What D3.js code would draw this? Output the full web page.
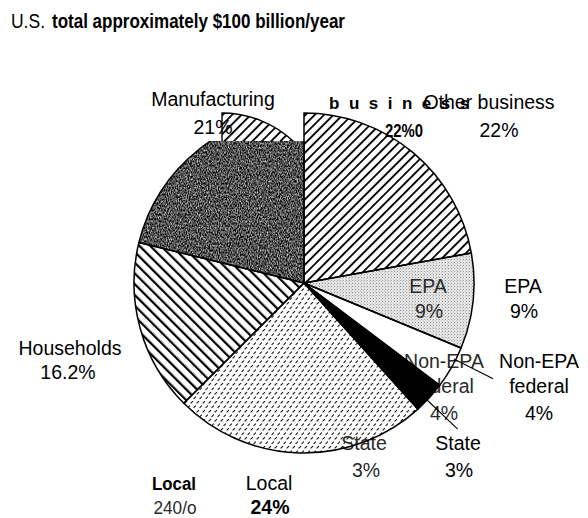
<!DOCTYPE html>
<html>
<head>
<meta charset="utf-8">
<script src="https://cdn.jsdelivr.net/npm/d3@7"></script>
<style>
  body { margin: 0; background: #fff; }
  svg text { font-family: "Liberation Sans", Arial, Helvetica, sans-serif; }
</style>
</head>
<body>
<div id="pie-chart"></div>
<script>
// shares (they add up to 99.2)
const categories = ["Other business", "EPA", "Non-EPA federal", "State", "Local", "Households", "Manufacturing"];
const shares = [22, 9, 4, 3, 24, 16.2, 21];
const shareLabels = ["22%", "9%", "4%", "3%", "24%", "16.2%", "21%"];

// fills per slice, same order as categories
const sliceFills = ["url(#hatch-fwd)", "url(#stipple)", "#fff", "#000", "url(#dashes)", "url(#hatch-back)", "#000"];

const width = 588, height = 518;
const cx = 304, cy = 283, radius = 170;

const svg = d3.select("#pie-chart")
  .append("svg")
  .attr("width", width)
  .attr("height", height);

// ---- patterns / textures
const defs = svg.append("defs");

defs.append("pattern")
  .attr("id", "hatch-fwd")
  .attr("patternUnits", "userSpaceOnUse")
  .attr("width", 6.6).attr("height", 10)
  .attr("patternTransform", "rotate(45)")
  .append("rect")
  .attr("x", 0).attr("y", 0).attr("width", 1.8).attr("height", 10)
  .attr("fill", "#000");

defs.append("pattern")
  .attr("id", "hatch-back")
  .attr("patternUnits", "userSpaceOnUse")
  .attr("width", 7.6).attr("height", 10)
  .attr("patternTransform", "rotate(-45)")
  .append("rect")
  .attr("x", 0).attr("y", 0).attr("width", 2.2).attr("height", 10)
  .attr("fill", "#000");

const stipple = defs.append("pattern")
  .attr("id", "stipple")
  .attr("patternUnits", "userSpaceOnUse")
  .attr("width", 3).attr("height", 3);
stipple.append("rect").attr("width", 3).attr("height", 3).attr("fill", "#e4e4e4");
stipple.append("rect").attr("x", 0).attr("y", 0).attr("width", 1).attr("height", 1).attr("fill", "#9a9a9a");
stipple.append("rect").attr("x", 2).attr("y", 1.5).attr("width", 0.8).attr("height", 0.8).attr("fill", "#b5b5b5");

const dashes = defs.append("pattern")
  .attr("id", "dashes")
  .attr("patternUnits", "userSpaceOnUse")
  .attr("width", 6).attr("height", 9);
dashes.append("rect").attr("width", 6).attr("height", 9).attr("fill", "#fff");
dashes.append("path")
  .attr("d", "M0.6,3.4 L3,1.1 M3.6,7.9 L6,5.6")
  .attr("stroke", "#111")
  .attr("stroke-width", 1.1)
  .attr("fill", "none");

// grainy dark scan texture for the manufacturing slice
const grain = defs.append("filter")
  .attr("id", "grain")
  .attr("x", 0).attr("y", 0).attr("width", 1).attr("height", 1)
  .attr("color-interpolation-filters", "sRGB");
grain.append("feTurbulence")
  .attr("type", "fractalNoise")
  .attr("baseFrequency", "0.9 0.45")
  .attr("numOctaves", 2)
  .attr("seed", 7)
  .attr("result", "noise");
grain.append("feColorMatrix")
  .attr("in", "noise")
  .attr("type", "matrix")
  .attr("values", "1.4 0 0 0 -0.38  1.4 0 0 0 -0.38  1.4 0 0 0 -0.38  0 0 0 0 1")
  .attr("result", "gray");
grain.append("feComposite")
  .attr("in", "gray")
  .attr("in2", "SourceGraphic")
  .attr("operator", "in");

// the scan lost the top of the manufacturing slice (clip in pie-local space)
defs.append("clipPath").attr("id", "mfg-clip-local")
  .append("rect").attr("x", -cx).attr("y", 141 - cy).attr("width", width).attr("height", height);

defs.append("clipPath").attr("id", "shard-clip")
  .append("rect").attr("x", 221).attr("y", 100).attr("width", 80).attr("height", 41);

// ---- pie
const slices = d3.pie().sort(null).value(d => d.value)(
  categories.map((c, i) => ({ name: c, value: shares[i], fill: sliceFills[i] }))
);

const arc = d3.arc().innerRadius(0).outerRadius(radius);

const fillsLayer = svg.append("g").attr("transform", `translate(${cx},${cy})`);

fillsLayer.selectAll("path.slice")
  .data(slices.filter(d => d.data.name !== "State"))
  .enter()
  .append("path")
  .attr("class", "slice")
  .attr("d", arc)
  .attr("fill", d => d.data.fill)
  .attr("clip-path", d => d.data.name === "Manufacturing" ? "url(#mfg-clip-local)" : null)
  .attr("filter", d => d.data.name === "Manufacturing" ? "url(#grain)" : null);

// ---- ghost labels left over from the scan (drawn under the black slice)
const ghost = svg.append("g");

const ghostText = (x, y, txt, opts = {}) => {
  const t = ghost.append("text")
    .attr("x", x).attr("y", y)
    .attr("text-anchor", opts.anchor || "middle")
    .attr("font-size", opts.size || 19.5)
    .attr("font-weight", opts.weight || "normal")
    .attr("fill", opts.fill || "#2a2a2a")
    .text(txt);
  if (opts.len) t.attr("textLength", opts.len).attr("lengthAdjust", "spacingAndGlyphs");
  if (opts.spacing) t.attr("letter-spacing", opts.spacing);
  return t;
};

ghostText(329, 109, "business", { anchor: "start", size: 17, weight: "bold", fill: "#000", spacing: 9.5 });
ghostText(385, 137, "22%0", { anchor: "start", size: 19, weight: "bold", fill: "#000", len: 38 });
ghostText(428, 293, "EPA");
ghostText(429, 318, "9%");
ghostText(444, 368, "Non-EPA");
ghostText(444, 393, "federal");
ghostText(444, 420, "4%");
ghostText(364, 450, "State");
ghostText(366, 477, "3%");
ghostText(174, 490, "Local", { size: 18, weight: "bold", fill: "#000", len: 44 });
ghostText(175, 514, "240/o", { size: 19, len: 43 });

// state slice sits on top of the ghost text
const blackLayer = svg.append("g").attr("transform", `translate(${cx},${cy})`);
blackLayer.selectAll("path")
  .data(slices.filter(d => d.data.name === "State"))
  .enter()
  .append("path")
  .attr("d", arc)
  .attr("fill", d => d.data.fill);

// outlines
const outlineLayer = svg.append("g").attr("transform", `translate(${cx},${cy})`);
outlineLayer.selectAll("path")
  .data(slices)
  .enter()
  .append("path")
  .attr("d", arc)
  .attr("fill", "none")
  .attr("stroke", "#000")
  .attr("stroke-width", 1.5)
  .attr("stroke-linejoin", "round")
  .attr("clip-path", d => d.data.name === "Manufacturing" ? "url(#mfg-clip-local)" : null);

// displaced hatched shard at the top of the manufacturing slice
const shard = d3.arc().innerRadius(0).outerRadius(104).startAngle(0).endAngle(Math.PI / 2);
svg.append("g")
  .attr("clip-path", "url(#shard-clip)")
  .append("path")
  .attr("transform", `translate(${cx - 82},${cy - 66})`)
  .attr("d", shard())
  .attr("fill", "url(#hatch-fwd)")
  .attr("stroke", "#000")
  .attr("stroke-width", 1.4);

// ---- outside labels
const labelLayout = {
  "Other business": { x: [489, 499], y: [109, 137] },
  "EPA": { x: [523, 524], y: [293, 318] },
  "Non-EPA federal": { x: [539, 539, 539], y: [368, 393, 420] },
  "State": { x: [458, 459], y: [450, 477] },
  "Local": { x: [269, 270], y: [490, 514], weight: ["normal", "bold"] },
  "Households": { x: [70, 68], y: [355, 379] },
  "Manufacturing": { x: [213, 213], y: [106, 134] }
};

categories.forEach((c, i) => {
  const lines = c === "Non-EPA federal" ? ["Non-EPA", "federal", shareLabels[i]] : [c, shareLabels[i]];
  const pos = labelLayout[c];
  lines.forEach((line, j) => {
    svg.append("text")
      .attr("x", pos.x[j])
      .attr("y", pos.y[j])
      .attr("text-anchor", "middle")
      .attr("font-size", 19.5)
      .attr("font-weight", pos.weight ? pos.weight[j] : "normal")
      .attr("fill", "#000")
      .text(line);
  });
});

// leader lines from the two thin slices
const leaderAt = { "Non-EPA federal": 0.3, "State": 0.6 };
svg.append("g")
  .attr("transform", `translate(${cx},${cy})`)
  .selectAll("line")
  .data(slices.filter(d => leaderAt[d.data.name] !== undefined))
  .enter()
  .append("line")
  .each(function (d) {
    const a = d.startAngle + (d.endAngle - d.startAngle) * leaderAt[d.data.name];
    const p0 = d3.pointRadial(a, radius - 2);
    const p1 = d3.pointRadial(a, radius + 42);
    d3.select(this)
      .attr("x1", p0[0]).attr("y1", p0[1])
      .attr("x2", p1[0]).attr("y2", p1[1]);
  })
  .attr("stroke", "#000")
  .attr("stroke-width", 1.1);

// ---- title
svg.append("text")
  .attr("x", 11).attr("y", 28)
  .attr("font-size", 21)
  .attr("textLength", 34).attr("lengthAdjust", "spacingAndGlyphs")
  .text("U.S.");
svg.append("text")
  .attr("x", 52).attr("y", 28)
  .attr("font-size", 21)
  .attr("font-weight", "bold")
  .attr("textLength", 293).attr("lengthAdjust", "spacingAndGlyphs")
  .text("total approximately $100 billion/year");
</script>
</body>
</html>
